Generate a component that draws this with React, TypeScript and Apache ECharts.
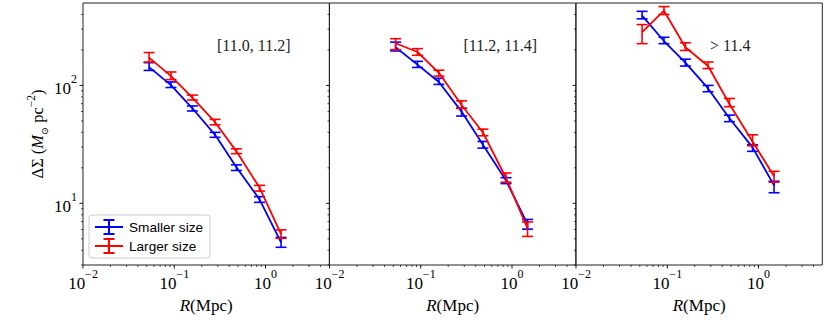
import React, { useEffect, useRef } from "react";
import * as echarts from "echarts";

// ---------- data ----------
const R_VALUES = [0.053, 0.092, 0.158, 0.28, 0.48, 0.86, 1.48];

const PANEL_LABELS = ["[11.0, 11.2]", "[11.2, 11.4]", "> 11.4"];
const SERIES_NAMES = ["Smaller size", "Larger size"];

const P1_SMALL = [143, 100.5, 64, 38.1, 20.2, 10.8, 4.67];
const P1_SMALL_LO = [134, 96, 60.7, 36.3, 19, 10.2, 4.24];
const P1_SMALL_HI = [156, 107, 67, 40, 21.2, 11.4, 5.14];
const P1_LARGE = [172, 120, 78.7, 48.8, 27.6, 13.6, 5.48];
const P1_LARGE_LO = [158, 112, 75.2, 46.3, 26.4, 12.7, 5.05];
const P1_LARGE_HI = [190, 130, 82.8, 51.6, 29, 14.2, 5.96];

const P2_SMALL = [211, 150, 107, 60, 31.4, 15.6, 6.65];
const P2_SMALL_LO = [196, 142, 102, 55, 29.4, 14.7, 6.04];
const P2_SMALL_HI = [233, 160, 115, 64, 33.5, 16.5, 7.3];
const P2_LARGE = [228, 192, 128, 68.2, 39.9, 16.4, 6.12];
const P2_LARGE_LO = [201, 180, 120, 64, 37.4, 15.1, 5.24];
const P2_LARGE_HI = [249, 205, 134.6, 74, 42.6, 18.1, 6.95];

const P3_SMALL = [391, 238, 156, 94.3, 52.7, 29.8, 14.2];
const P3_SMALL_LO = [367, 226, 146, 88.4, 49.3, 27.6, 12.3];
const P3_SMALL_HI = [425, 256, 167, 100, 56, 31.4, 15.4];
const P3_LARGE = [283, 430, 211, 146, 69.5, 33.5, 17];
const P3_LARGE_LO = [226, 399, 198, 139, 66, 30.8, 15.1];
const P3_LARGE_HI = [328, 466, 230, 158, 77.5, 38.1, 18.7];

const X_MIN = 0.01;
const X_MAX = 5;
const Y_MIN = 3;
const Y_MAX = 500;

const X_MAJOR_TICKS = [0.01, 0.1, 1];
const X_MINOR_TICKS = [
  0.02, 0.03, 0.04, 0.05, 0.06, 0.07, 0.08, 0.09,
  0.2, 0.3, 0.4, 0.5, 0.6, 0.7, 0.8, 0.9,
  2, 3, 4,
];
const Y_MAJOR_TICKS = [10, 100];
const Y_MINOR_TICKS = [3, 4, 5, 6, 7, 8, 9, 20, 30, 40, 50, 60, 70, 80, 90, 200, 300, 400];

// ---------- layout / style ----------
const GRID_LEFTS = [83, 329.5, 576];
const GRID_WIDTH = 246.3;
const GRID_TOP = 3;
const GRID_HEIGHT = 262;
const SERIF = "'Liberation Serif', 'DejaVu Serif', serif";
const SANS = "'Liberation Sans', 'DejaVu Sans', sans-serif";
const BLUE = "#0000ff";
const RED = "#ff0000";

const PANELS = [
  { small: [P1_SMALL, P1_SMALL_LO, P1_SMALL_HI], large: [P1_LARGE, P1_LARGE_LO, P1_LARGE_HI] },
  { small: [P2_SMALL, P2_SMALL_LO, P2_SMALL_HI], large: [P2_LARGE, P2_LARGE_LO, P2_LARGE_HI] },
  { small: [P3_SMALL, P3_SMALL_LO, P3_SMALL_HI], large: [P3_LARGE, P3_LARGE_LO, P3_LARGE_HI] },
];

const powLabel = (value: number) => {
  const l = Math.log10(value);
  const e = Math.round(l);
  if (Math.abs(l - e) > 1e-6) return "";
  const ex = e < 0 ? "\u2212" + -e : String(e);
  return `{b|10}{s|${ex}}`;
};

const labelRich = {
  b: { fontFamily: SERIF, fontSize: 17, color: "#000", lineHeight: 24, verticalAlign: "bottom" },
  s: { fontFamily: SERIF, fontSize: 12, color: "#000", verticalAlign: "top" },
};

function buildOption() {
  const grids: any[] = [];
  const xAxes: any[] = [];
  const yAxes: any[] = [];
  const series: any[] = [];

  PANELS.forEach((panel, i) => {
    grids.push({
      left: GRID_LEFTS[i],
      top: GRID_TOP,
      width: GRID_WIDTH,
      height: GRID_HEIGHT,
      show: true,
      borderColor: "#222",
      borderWidth: 1,
      backgroundColor: "transparent",
    });
    xAxes.push({
      type: "log",
      logBase: 10,
      gridIndex: i,
      min: X_MIN,
      max: X_MAX,
      axisLine: { show: false },
      axisTick: { show: false },
      splitLine: { show: false },
      axisLabel: {
        margin: 3,
        formatter: powLabel,
        rich: labelRich,
        showMaxLabel: false,
      },
      name: "{i|R}{n|(Mpc)}",
      nameLocation: "middle",
      nameGap: 19,
      nameTextStyle: {
        rich: {
          i: { fontFamily: SERIF, fontSize: 17, fontStyle: "italic", color: "#000" },
          n: { fontFamily: SERIF, fontSize: 17, color: "#000" },
        },
      },
    });
    yAxes.push({
      type: "log",
      logBase: 10,
      gridIndex: i,
      min: Y_MIN,
      max: Y_MAX,
      axisLine: { show: false },
      axisTick: { show: false },
      splitLine: { show: false },
      axisLabel: {
        show: i === 0,
        margin: 6,
        formatter: powLabel,
        rich: labelRich,
        showMinLabel: false,
        showMaxLabel: false,
      },
    });

    // ticks (drawn through axis scales)
    const xTickData = [
      ...X_MAJOR_TICKS.map((v) => [v, 10, 1]),
      ...X_MINOR_TICKS.map((v) => [v, 10, 0]),
    ];
    const yTickData = [
      ...Y_MAJOR_TICKS.map((v) => [0.1, v, 1]),
      ...Y_MINOR_TICKS.map((v) => [0.1, v, 0]),
    ];
    series.push({
      type: "custom",
      name: "xticks" + i,
      xAxisIndex: i,
      yAxisIndex: i,
      silent: true,
      clip: false,
      encode: { x: 0, y: 1 },
      data: xTickData,
      renderItem: (params: any, api: any) => {
        const p = api.coord([api.value(0), Y_MIN]);
        const len = api.value(2) ? 3.5 : 2;
        return {
          type: "line",
          shape: { x1: p[0], y1: p[1], x2: p[0], y2: p[1] + len },
          style: { stroke: "#000", lineWidth: api.value(2) ? 0.9 : 0.7 },
        };
      },
    });
    series.push({
      type: "custom",
      name: "yticks" + i,
      xAxisIndex: i,
      yAxisIndex: i,
      silent: true,
      clip: false,
      encode: { x: 0, y: 1 },
      data: yTickData,
      renderItem: (params: any, api: any) => {
        const p = api.coord([X_MIN, api.value(1)]);
        const len = api.value(2) ? 3.5 : 2;
        return {
          type: "line",
          shape: { x1: p[0], y1: p[1], x2: p[0] - len, y2: p[1] },
          style: { stroke: "#000", lineWidth: api.value(2) ? 0.9 : 0.7 },
        };
      },
    });

    const groups = [
      { d: panel.small, color: BLUE, name: SERIES_NAMES[0], z: 3 },
      { d: panel.large, color: RED, name: SERIES_NAMES[1], z: 5 },
    ];
    groups.forEach((g) => {
      const [vals, lo, hi] = g.d;
      series.push({
        type: "custom",
        name: g.name + " err" + i,
        xAxisIndex: i,
        yAxisIndex: i,
        z: g.z,
        silent: true,
        encode: { x: 0, y: [1, 2] },
        data: R_VALUES.map((x, k) => [x, lo[k], hi[k]]),
        renderItem: (params: any, api: any) => {
          const x = api.value(0);
          const a = api.coord([x, api.value(1)]);
          const b = api.coord([x, api.value(2)]);
          const hw = 5.5;
          const st = { stroke: g.color, lineWidth: 1.6 };
          return {
            type: "group",
            children: [
              { type: "line", shape: { x1: a[0], y1: a[1], x2: b[0], y2: b[1] }, style: st },
              { type: "line", shape: { x1: a[0] - hw, y1: a[1], x2: a[0] + hw, y2: a[1] }, style: st },
              { type: "line", shape: { x1: b[0] - hw, y1: b[1], x2: b[0] + hw, y2: b[1] }, style: st },
            ],
          };
        },
      });
      series.push({
        type: "line",
        name: g.name,
        xAxisIndex: i,
        yAxisIndex: i,
        z: g.z + 1,
        symbol: "none",
        silent: true,
        color: g.color,
        itemStyle: { color: g.color },
        lineStyle: { color: g.color, width: 1.8 },
        data: R_VALUES.map((x, k) => [x, vals[k]]),
      });
    });
  });

  const graphics: any[] = PANEL_LABELS.map((t, i) => ({
    type: "text",
    x: GRID_LEFTS[i] + 134,
    y: 45,
    style: {
      text: t,
      fontFamily: SERIF,
      fontSize: 16,
      fill: "#222",
      align: "left",
      verticalAlign: "middle",
    },
  }));
  graphics.push({
    type: "text",
    x: 37,
    y: GRID_TOP + GRID_HEIGHT / 2,
    rotation: Math.PI / 2,
    style: {
      text: "{n|\u0394\u03a3 (}{i|M}{sub|\u2299}{n| pc}{sup|\u22122}{n|)}",
      align: "center",
      verticalAlign: "middle",
      fill: "#000",
      rich: {
        n: { fontFamily: SERIF, fontSize: 16.5, lineHeight: 24, verticalAlign: "middle" },
        i: { fontFamily: SERIF, fontSize: 16.5, fontStyle: "italic", lineHeight: 24, verticalAlign: "middle" },
        sub: { fontFamily: "'DejaVu Sans', sans-serif", fontSize: 9.5, verticalAlign: "bottom" },
        sup: { fontFamily: SERIF, fontSize: 11.5, verticalAlign: "top" },
      },
    },
  });

  const legendIcon = "path://M0,7h28v2H0zM13,0h2v16h-2zM8.5,0h11v2h-11zM8.5,14h11v2h-11z";

  return {
    animation: false,
    backgroundColor: "#fff",
    grid: grids,
    xAxis: xAxes,
    yAxis: yAxes,
    series,
    graphic: graphics,
    legend: {
      data: SERIES_NAMES.map((n) => ({ name: n, icon: legendIcon })),
      orient: "vertical",
      left: 89,
      top: 215,
      itemWidth: 28,
      itemHeight: 16,
      itemGap: 3,
      padding: [4, 7, 4, 6],
      borderColor: "#cccccc",
      borderWidth: 1,
      borderRadius: 3,
      backgroundColor: "rgba(255,255,255,0.8)",
      selectedMode: false,
      textStyle: { fontFamily: SANS, fontSize: 13.6, color: "#000", padding: [0, 0, 0, 1] },
    },
  };
}

export default function App() {
  const ref = useRef<HTMLDivElement>(null);
  useEffect(() => {
    if (!ref.current) return;
    const chart = echarts.init(ref.current, undefined, { renderer: "svg" });
    chart.setOption(buildOption() as any);
    return () => chart.dispose();
  }, []);
  return (
    <div
      ref={ref}
      style={{ position: "absolute", left: 0, top: 0, width: 830, height: 332, background: "#fff" }}
    />
  );
}
